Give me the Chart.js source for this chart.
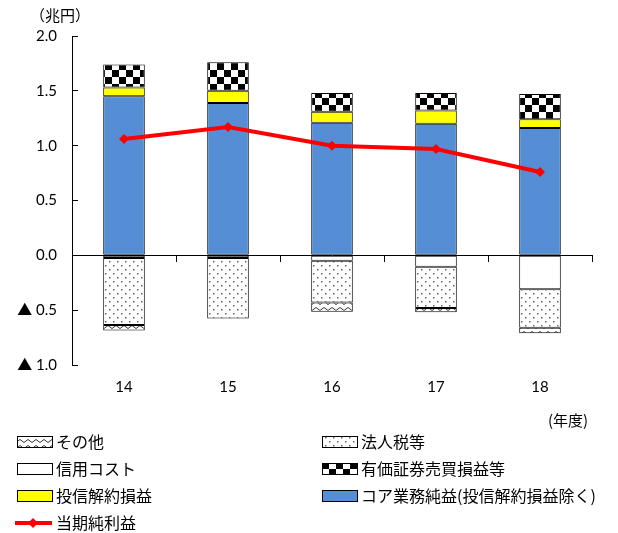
<!DOCTYPE html>
<html lang="ja">
<head>
<meta charset="utf-8">
<script src="https://cdn.jsdelivr.net/npm/chart.js@4"></script>
<style>
  body { margin: 0; background: #fff; }
</style>
</head>
<body>
<canvas id="profitChart" width="618" height="533"></canvas>
<script>
// 年度
const years = ['14', '15', '16', '17', '18'];
// プラス側 (兆円)
const coreProfit = [1.45, 1.39, 1.21, 1.20, 1.16];
const fundCancel = [0.08, 0.11, 0.10, 0.12, 0.08];
const securities = [0.21, 0.26, 0.17, 0.16, 0.23];
// マイナス側 (兆円)
const creditCost = [-0.025, -0.025, -0.05, -0.105, -0.31];
const corpTax = [-0.61, -0.55, -0.38, -0.375, -0.35];
const others = [-0.05, 0, -0.085, -0.04, -0.05];
// 当期純利益
const netIncome = [1.06, 1.17, 1.00, 0.97, 0.76];
// 目盛り
const yMin = -1.0;
const yMax = 2.0;
const yStep = 0.5;

const numFont = "Lato, 'Noto Sans CJK JP', sans-serif";
const jpFont = "'Noto Sans CJK JP', sans-serif";

function makePattern(w, h, draw) {
    const c = document.createElement('canvas');
    c.width = w;
    c.height = h;
    const g = c.getContext('2d');
    g.fillStyle = '#fff';
    g.fillRect(0, 0, w, h);
    draw(g);
    return g.createPattern(c, 'repeat');
}

const checker = makePattern(14, 14, g => {
    g.fillStyle = '#000';
    g.fillRect(0, 0, 7, 7);
    g.fillRect(7, 7, 7, 7);
});
const dots = makePattern(8, 8, g => {
    g.fillStyle = '#666';
    g.fillRect(1, 1, 1.5, 1.5);
    g.fillRect(5, 5, 1.5, 1.5);
});
const zigzag = makePattern(8, 6, g => {
    g.strokeStyle = '#333';
    g.lineWidth = 1;
    g.beginPath();
    g.moveTo(0, 4.5);
    g.lineTo(4, 1.5);
    g.lineTo(8, 4.5);
    g.stroke();
});

function barSet(label, data, color) {
    return {
        type: 'bar',
        label: label,
        data: data,
        backgroundColor: color,
        borderColor: '#000',
        borderWidth: 1,
        borderSkipped: false,
        stack: 'bars',
        order: 1
    };
}

const datasets = [
    barSet('コア業務純益(投信解約損益除く)', coreProfit, '#558ed5'),
    barSet('投信解約損益', fundCancel, '#ffff00'),
    barSet('有価証券売買損益等', securities, checker),
    barSet('信用コスト', creditCost, '#ffffff'),
    barSet('法人税等', corpTax, dots),
    barSet('その他', others, zigzag),
    {
        type: 'line',
        label: '当期純利益',
        data: netIncome,
        borderColor: '#ff0000',
        backgroundColor: '#ff0000',
        borderWidth: 4,
        pointStyle: 'rectRot',
        pointRadius: 5,
        pointBorderWidth: 0,
        pointBackgroundColor: '#ff0000',
        stack: 'net',
        order: 0
    }
];

// 凡例の並び (データセット番号)
const legendOrder = [5, 4, 3, 2, 1, 0, 6];

const extrasPlugin = {
    id: 'extras',
    afterDraw(chart) {
        const ctx = chart.ctx;
        ctx.save();
        ctx.fillStyle = '#000';
        ctx.textBaseline = 'middle';
        ctx.font = '15px ' + jpFont;
        ctx.textAlign = 'left';
        ctx.fillText('（兆円）', 30, 15);
        ctx.fillText('(年度)', 548, 420);

        ctx.font = '16px ' + jpFont;
        legendOrder.forEach((idx, i) => {
            const ds = chart.data.datasets[idx];
            const x = i % 2 === 0 ? 17 : 322;
            const y = 442 + Math.floor(i / 2) * 27;
            if (ds.type === 'line') {
                ctx.strokeStyle = ds.borderColor;
                ctx.lineWidth = 4;
                ctx.beginPath();
                ctx.moveTo(x - 2, y);
                ctx.lineTo(x + 35, y);
                ctx.stroke();
                ctx.fillStyle = ds.borderColor;
                ctx.beginPath();
                ctx.moveTo(x + 16, y - 5);
                ctx.lineTo(x + 21, y);
                ctx.lineTo(x + 16, y + 5);
                ctx.lineTo(x + 11, y);
                ctx.closePath();
                ctx.fill();
            } else {
                ctx.fillStyle = ds.backgroundColor;
                ctx.fillRect(x, y - 6, 36, 12);
                ctx.strokeStyle = '#000';
                ctx.lineWidth = 1;
                ctx.strokeRect(x + 0.5, y - 5.5, 35, 11);
            }
            ctx.fillStyle = '#000';
            ctx.fillText(ds.label, x + 39, y);
        });
        ctx.restore();
    }
};

new Chart(document.getElementById('profitChart'), {
    data: {
        labels: years,
        datasets: datasets
    },
    options: {
        responsive: false,
        animation: false,
        layout: {
            padding: { left: 0, right: 26, top: 36, bottom: 128 }
        },
        plugins: {
            legend: { display: false },
            tooltip: { enabled: false }
        },
        datasets: {
            bar: { categoryPercentage: 1.0, barPercentage: 0.4 }
        },
        scales: {
            x: {
                type: 'category',
                position: { y: 0 },
                offset: true,
                stacked: true,
                grid: {
                    drawOnChartArea: false,
                    drawTicks: true,
                    tickLength: 6,
                    color: '#000'
                },
                border: { display: true, color: '#000', width: 1 },
                ticks: { display: false },
                afterFit: s => { s.height = 0; }
            },
            x2: {
                type: 'category',
                labels: years,
                position: 'bottom',
                offset: true,
                grid: { display: false, drawTicks: false },
                border: { display: false },
                ticks: {
                    padding: 13,
                    color: '#000',
                    font: { family: numFont, size: 15 }
                },
                afterFit: s => { s.height = 40; }
            },
            y: {
                stacked: true,
                min: yMin,
                max: yMax,
                grid: {
                    drawOnChartArea: false,
                    drawTicks: true,
                    tickLength: -6,
                    color: '#000'
                },
                border: { display: true, color: '#000', width: 1 },
                ticks: {
                    stepSize: yStep,
                    padding: 21,
                    color: '#000',
                    font: { family: numFont, size: 15 },
                    callback: v => v < 0 ? '▲ ' + Math.abs(v).toFixed(1) : v.toFixed(1)
                },
                afterFit: s => { s.width = 72; }
            }
        }
    },
    plugins: [extrasPlugin]
});
</script>
</body>
</html>
